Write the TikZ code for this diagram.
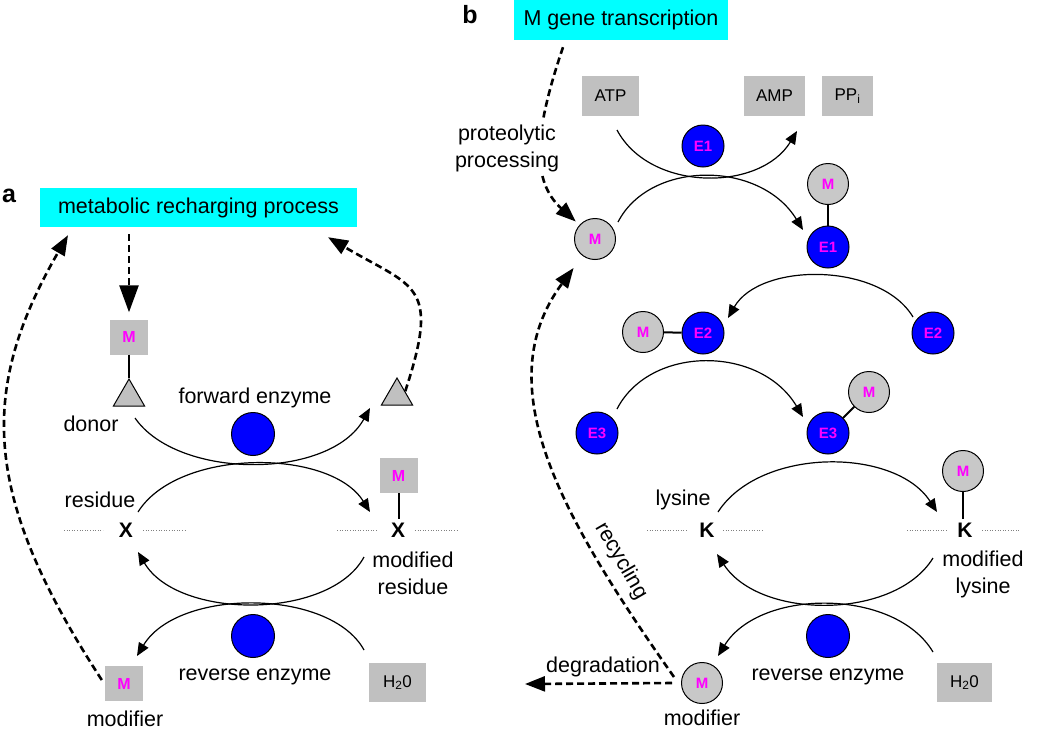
\documentclass[tikz,border=0pt]{standalone}
\usepackage{fontspec}
\setmainfont{Liberation Sans}
\usetikzlibrary{arrows.meta,shapes.geometric,calc}
\definecolor{cyanbox}{RGB}{0,255,255}
\definecolor{boxgray}{RGB}{192,192,192}
\definecolor{circgray}{RGB}{200,200,200}
\definecolor{enzblue}{RGB}{0,0,255}
\definecolor{mag}{RGB}{255,0,255}
\begin{document}
\begin{tikzpicture}[x=1pt,y=-1pt,
 lbl/.style={font=\fontsize{21.5}{27}\selectfont, inner sep=0pt, align=center},
 panel/.style={font=\fontsize{25}{26}\selectfont\bfseries, inner sep=0pt},
 titlebox/.style={fill=cyanbox, font=\fontsize{21.5}{26}\selectfont, inner sep=0pt},
 gbox/.style={fill=boxgray, inner sep=0pt, minimum height=40pt, font=\fontsize{17}{20}\selectfont},
 mbox/.style={fill=boxgray, minimum width=38pt, minimum height=35pt, inner sep=0pt, text=mag, font=\fontsize{16}{18}\selectfont\bfseries},
 enz/.style={circle, fill=enzblue, draw=black, line width=1pt, minimum size=42pt, inner sep=0pt, text=mag, font=\fontsize{15}{17}\selectfont\bfseries},
 modc/.style={circle, fill=circgray, draw=black, line width=1pt, minimum size=41pt, inner sep=0pt, text=mag, font=\fontsize{15}{17}\selectfont\bfseries},
 tri/.style={regular polygon, regular polygon sides=3, minimum size=36pt, inner sep=0pt, fill=boxgray, draw=black, line width=1pt},
 rx/.style={line width=1.2pt, -{Triangle[length=13pt,width=11pt]}},
 dsh/.style={line width=2.6pt, dash pattern=on 7pt off 4pt, -{Triangle[length=20pt,width=15pt]}},
 dotl/.style={gray, line width=0.9pt, dash pattern=on 1pt off 1.6pt},
 res/.style={font=\fontsize{21}{22}\selectfont\bfseries, inner sep=0pt},
 link/.style={line width=2pt}
]
\path[use as bounding box] (0,0) rectangle (1050,729);

% ================= panel a =================
\node[panel] (la) at (9,196) {a};
\node[titlebox, minimum width=317pt, minimum height=39pt] (meta) at (198.5,207.5) {metabolic recharging process};
\node[mbox] (dM) at (129,337) {M};
\node[tri] (tri1) at (129,397) {};
\node[tri] (tri2) at (397,396) {};
\draw[link] (dM.south) -- (tri1.corner 1);
\node[lbl] (donor) at (91,424) {donor};
\node[lbl] (fwd) at (255,398) {forward enzyme};
\node[enz, minimum size=43pt] (fe) at (253,434) {};
\node[lbl] (residue) at (100,500) {residue};
\node[res] (X1) at (126,530) {X};
\node[res] (X2) at (398,530) {X};
\node[mbox] (rM) at (398.5,475.5) {M};
\draw[link, shorten >=4pt] (rM.south) -- (rM.south |- X2.north);
\draw[dotl] ($(X1)+(-62,0)$) -- ($(X1)+(-23,0)$);
\draw[dotl] ($(X1)+(17,0)$) -- ($(X1)+(59,0)$);
\draw[dotl] ($(X2)+(-61,0)$) -- ($(X2)+(-20,0)$);
\draw[dotl] ($(X2)+(17,0)$) -- ($(X2)+(60,0)$);
\node[lbl] (modres) at (413,573.5) {modified\\residue};
\node[enz, minimum size=43pt] (re) at (253,636) {};
\node[lbl] (rev) at (255,677) {reverse enzyme};
\node[gbox, minimum width=57pt, minimum height=39pt] (h2o) at (397.5,682.5) {H\textsubscript{2}0};
\node[mbox] (mod1) at (124,683.5) {M};
\node[lbl] (modifier) at (125,718.5) {modifier};

% reaction arcs a
\coordinate (a1s) at (135,418); \coordinate (a1e) at (370,408);
\coordinate (a2s) at (138,512); \coordinate (a2e) at (370,512);
\coordinate (a3s) at (364,557); \coordinate (a3e) at (138,552);
\coordinate (a4s) at (364,650); \coordinate (a4e) at (137,656);
\draw[rx] (a1s) .. controls (178,480) and (330,480) .. (a1e);
\draw[rx] (a2s) .. controls (178,448) and (330,448) .. (a2e);
\draw[rx] (a3s) .. controls (330,620) and (178,620) .. (a3e);
\draw[rx] (a4s) .. controls (330,588) and (178,588) .. (a4e);

% dashed a
\draw[dsh, -{Triangle[length=27pt,width=19pt]}, shorten <=7pt, shorten >=7pt] (meta.south -| dM.north) -- (dM.north);
\draw[dsh] (tri2.side 3) .. controls (441,283) and (414,288) .. ([xshift=129.5pt,yshift=-10pt]meta.south);
\draw[dsh] ([xshift=-3pt,yshift=3.5pt]mod1.west) .. controls (-18,496) and (-22,391) .. ([xshift=-130.5pt,yshift=-8pt]meta.south);

% ================= panel b =================
\node[panel] (lb) at (470,15) {b};
\node[titlebox, minimum width=214pt, minimum height=40pt] (mgt) at (621,20) {M gene transcription};
\node[gbox, minimum width=57pt] (atp) at (610.5,96) {ATP};
\node[gbox, minimum width=61pt] (amp) at (774.5,96) {AMP};
\node[gbox, minimum width=51pt] (ppi) at (847.5,96) {PP\textsubscript{i}};
\node[enz] (E1a) at (703,146) {E1};
\node[modc] (M0) at (595,239) {M};
\node[modc] (M1) at (828,184) {M};
\node[enz] (E1b) at (828,247) {E1};
\draw[link] (M1) -- (E1b);
\node[modc] (M2) at (643,332) {M};
\node[enz] (E2b) at (703,333) {E2};
\draw[link] (M2) -- (E2b);
\node[enz] (E2a) at (933,333) {E2};
\node[enz] (E3a) at (597,433) {E3};
\node[enz] (E3b) at (828,433) {E3};
\node[modc] (M3) at (869,392) {M};
\draw[link] (E3b) -- (M3);
\node[modc] (M4) at (963,471) {M};
\node[res] (K1) at (707,530) {K};
\node[res] (K2) at (965,530) {K};
\draw[link, shorten >=4pt] (M4.south) -- (M4.south |- K2.north);
\draw[dotl] ($(K1)+(-60,0)$) -- ($(K1)+(-20,0)$);
\draw[dotl] ($(K1)+(16,0)$) -- ($(K1)+(56,0)$);
\draw[dotl] ($(K2)+(-58,0)$) -- ($(K2)+(-18,0)$);
\draw[dotl] ($(K2)+(17,0)$) -- ($(K2)+(55,0)$);
\node[lbl] (lys) at (683,500) {lysine};
\node[lbl] (modlys) at (983,574.5) {modified\\lysine};
\node[enz, minimum size=43pt] (re2) at (828,636) {};
\node[lbl] (rev2) at (828,677) {reverse enzyme};
\node[gbox, minimum width=55pt, minimum height=39pt] (h2o2) at (964.5,682.5) {H\textsubscript{2}0};
\node[modc] (mod2) at (702,683) {M};
\node[lbl] (modifier2) at (702,718) {modifier};

% reaction arcs b
\coordinate (b1s) at (617,130); \coordinate (b1e) at (797,131);
\coordinate (b2s) at (618,222); \coordinate (b2e) at (803,230);
\coordinate (b3s) at (913,317); \coordinate (b3e) at (728,318);
\coordinate (b4s) at (617,409); \coordinate (b4e) at (803,417);
\coordinate (b5s) at (718,512); \coordinate (b5e) at (937,512);
\coordinate (b6s) at (933,558); \coordinate (b6e) at (717,554);
\coordinate (b7s) at (933,652); \coordinate (b7e) at (718,656);
\draw[rx] (b1s) .. controls (650,192) and (760,192) .. (b1e);
\draw[rx] (b2s) .. controls (650,160) and (760,160) .. (b2e);
\draw[rx] (b3s) .. controls (880,262) and (760,262) .. (b3e);
\draw[rx] (b4s) .. controls (650,345) and (760,345) .. (b4e);
\draw[rx] (b5s) .. controls (760,447) and (895,447) .. (b5e);
\draw[rx] (b6s) .. controls (895,620) and (760,620) .. (b6e);
\draw[rx] (b7s) .. controls (895,588) and (760,588) .. (b7e);

% dashed b
\draw[dsh, shorten >=5pt] ([xshift=-58pt,yshift=-7pt]mgt.south) .. controls (535,130) and (530,180) .. (M0);
\node[lbl, fill=white, inner sep=3pt] (prot) at (507,148) {proteolytic\\processing};
\draw[dsh, shorten >=15pt] ([xshift=-7pt,yshift=6pt]mod2.west) .. controls (560,515) and (487,385) .. (M0);
\node[lbl, rotate=-60] (recyc) at (621,561) {recycling};
\coordinate (degr) at (525,684);
\draw[dsh] ([xshift=-9pt]mod2.west) -- (degr);
\node[lbl] (deglbl) at (603,667) {degradation};
\end{tikzpicture}
\end{document}
